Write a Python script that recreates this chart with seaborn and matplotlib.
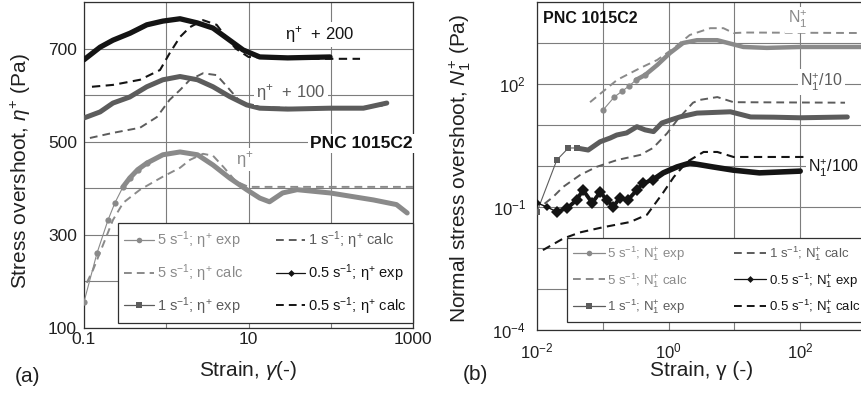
import matplotlib
matplotlib.use("Agg")
import numpy as np
import pandas as pd
import seaborn as sns
import matplotlib.pyplot as plt
from matplotlib.lines import Line2D

# ---------------- panel (a): stress overshoot ----------------
strain_a_5exp = [0.1, 0.144, 0.196, 0.238, 0.298, 0.36, 0.45, 0.58, 0.91, 1.47, 2.4, 3.7, 5.9, 9.5, 13.7, 18, 26, 39, 98, 330, 630, 850]
eta_a_5exp = [156, 261, 332, 369, 403, 422, 440, 454, 472, 478, 472, 450, 422, 397, 379, 371, 390, 397, 390, 375, 365, 347]
strain_a_5calc = [0.108, 0.129, 0.18, 0.225, 0.3, 0.48, 0.91, 1.47, 1.94, 2.8, 3.7, 5, 7, 10, 1000]
eta_a_5calc = [197, 225, 289, 332, 369, 397, 425, 444, 461, 474, 470, 445, 415, 403, 403]
strain_a_1exp = [0.1, 0.157, 0.225, 0.36, 0.58, 0.91, 1.47, 2.4, 3.7, 5.9, 9.5, 13.7, 30, 98, 250, 480]
eta_a_1exp = [551, 564, 583, 596, 618, 633, 640, 633, 618, 597, 579, 572, 570, 572, 572, 583]
strain_a_1calc = [0.118, 0.225, 0.48, 0.77, 1.1, 1.47, 1.94, 2.8, 4.1, 5.5, 8, 11, 100, 480]
eta_a_1calc = [508, 519, 530, 553, 590, 611, 633, 647, 643, 618, 585, 575, 570, 578]
strain_a_05exp = [0.1, 0.157, 0.225, 0.363, 0.58, 0.91, 1.47, 2.4, 3.7, 5.9, 8.6, 13.7, 30, 98]
eta_a_05exp = [676, 703, 718, 733, 751, 759, 764, 755, 744, 718, 697, 682, 680, 682]
strain_a_05calc = [0.125, 0.225, 0.48, 0.84, 1.1, 1.47, 1.94, 2.8, 4.1, 4.9, 7, 10, 50, 227]
eta_a_05calc = [618, 622, 633, 654, 690, 725, 746, 761, 751, 733, 700, 682, 678, 678]

# ---------------- panel (b): normal stress overshoot ----------------
strain_b_5exp = [0.101, 0.149, 0.197, 0.25, 0.32, 0.44, 0.67, 1.05, 1.66, 2.7, 5.5, 8, 13.7, 31, 100, 1000]
n1_b_5exp = [23.2, 48, 67, 89, 126, 166, 290, 570, 1000, 1170, 1170, 1000, 800, 760, 800, 800]
strain_b_5calc = [0.064, 0.165, 0.37, 0.67, 1.2, 2.1, 4.3, 6.8, 9.7, 15, 1000]
n1_b_5calc = [36, 126, 245, 385, 750, 1570, 2300, 2300, 1750, 1800, 1750]
strain_b_1exp = [0.01, 0.02, 0.03, 0.04, 0.06, 0.091, 0.129, 0.163, 0.23, 0.33, 0.44, 0.59, 0.79, 1.06, 1.5, 2.7, 8.7, 17.7, 40, 100, 520]
n1_b_1exp = [0.076, 1.4, 2.75, 2.75, 2.45, 3.9, 4.8, 5.7, 6.4, 9.1, 7.6, 6.9, 11.2, 13.2, 15.8, 19.5, 21, 15.7, 15.5, 15, 15.7]
strain_b_1calc = [0.013, 0.0175, 0.025, 0.045, 0.08, 0.165, 0.37, 0.58, 0.95, 1.34, 2.35, 3.0, 5.5, 9.7, 480]
n1_b_1calc = [0.12, 0.175, 0.31, 0.6, 0.95, 1.4, 1.86, 2.75, 6.3, 13, 35, 41, 48, 36, 35]
strain_b_05exp = [0.01, 0.0142, 0.02, 0.029, 0.04, 0.05, 0.069, 0.091, 0.116, 0.144, 0.18, 0.24, 0.33, 0.41, 0.58, 0.83, 1.34, 2.1, 4.7, 9.7, 24, 100]
n1_b_05exp = [0.126, 0.1, 0.076, 0.095, 0.148, 0.26, 0.126, 0.23, 0.148, 0.1, 0.166, 0.148, 0.26, 0.385, 0.457, 0.68, 0.95, 1.18, 0.95, 0.79, 0.68, 0.75]
strain_b_05calc = [0.0123, 0.025, 0.045, 0.1, 0.26, 0.47, 0.82, 1.2, 1.9, 3.4, 5.5, 9.7, 130]
n1_b_05calc = [0.0089, 0.017, 0.024, 0.032, 0.043, 0.065, 0.22, 0.54, 1.26, 2.2, 2.2, 1.66, 1.66]

# ticks
xticks_a = [0.1, 1, 10, 100, 1000]
xticklabels_a = ["0.1", "", "10", "", "1000"]
yticks_a = [100, 200, 300, 400, 500, 600, 700, 800]
yticklabels_a = ["100", "", "300", "", "500", "", "700", ""]
xticks_b = [1e-2, 1e-1, 1e0, 1e1, 1e2, 1e3]
xticklabels_b = [r"$10^{-2}$", "", r"$10^{0}$", "", r"$10^{2}$", ""]
yticks_b = [1e-4, 1e-3, 1e-2, 1e-1, 1e0, 1e1, 1e2, 1e3, 1e4]
yticklabels_b = [r"$10^{-4}$", "", "", r"$10^{-1}$", "", "", r"$10^{2}$", "", ""]

legend_a = ["5 s$^{-1}$; η$^{+}$ exp", "5 s$^{-1}$; η$^{+}$ calc", "1 s$^{-1}$; η$^{+}$ exp",
            "1 s$^{-1}$; η$^{+}$ calc", "0.5 s$^{-1}$; η$^{+}$ exp", "0.5 s$^{-1}$; η$^{+}$ calc"]
legend_b = [r"5 s$^{-1}$; $\mathrm{N}_1^{+}$ exp", r"5 s$^{-1}$; $\mathrm{N}_1^{+}$ calc", r"1 s$^{-1}$; $\mathrm{N}_1^{+}$ exp",
            r"1 s$^{-1}$; $\mathrm{N}_1^{+}$ calc", r"0.5 s$^{-1}$; $\mathrm{N}_1^{+}$ exp", r"0.5 s$^{-1}$; $\mathrm{N}_1^{+}$ calc"]

# ---------------- style ----------------
sns.set_theme(style="whitegrid")
plt.rcParams['font.family'] = ['Liberation Sans', 'DejaVu Sans']
plt.rcParams['mathtext.fontset'] = 'custom'
plt.rcParams['mathtext.rm'] = 'Liberation Sans'
plt.rcParams['mathtext.it'] = 'Liberation Sans:italic'
plt.rcParams['mathtext.bf'] = 'Liberation Sans:bold'

C5 = '#8a8a8a'
C1 = '#5c5c5c'
C05 = '#141414'
GRID = '#7d7d7d'
DASH = (0, (4, 2.6))

fig = plt.figure(figsize=(8.62, 3.94), dpi=100)
axA = fig.add_axes([84/862, 1-328/394, 329/862, 326/394])
axB = fig.add_axes([537/862, 1-330/394, 329/862, 328/394])


def line(ax, x, y, color, lw, ls='-', marker=None, ms=0, z=2):
    sns.lineplot(x=x, y=y, ax=ax, color=color, lw=lw, linestyle=ls, marker=marker,
                 markersize=ms, markeredgewidth=0, markeredgecolor=color, sort=False,
                 estimator=None, zorder=z, legend=False)


def style_axes(ax):
    ax.set_facecolor('white')
    ax.grid(True, color=GRID, lw=0.8)
    ax.set_axisbelow(True)
    for s in ax.spines.values():
        s.set_visible(True)
        s.set_color('#303030')
        s.set_linewidth(0.9)
    ax.tick_params(length=0)

# ---------- panel (a) ----------
axA.set_xscale('log')
style_axes(axA)
line(axA, strain_a_5exp[:8], eta_a_5exp[:8], C5, 0.8, marker='o', ms=4.5, z=3)
line(axA, strain_a_5exp[4:], eta_a_5exp[4:], C5, 3.6, z=3)
line(axA, strain_a_1exp, eta_a_1exp, C1, 3.6, z=3)
line(axA, strain_a_05exp, eta_a_05exp, C05, 3.8, z=3)
line(axA, strain_a_5calc, eta_a_5calc, C5, 1.4, ls=DASH, z=4)
line(axA, strain_a_1calc, eta_a_1calc, C1, 1.4, ls=DASH, z=4)
line(axA, strain_a_05calc, eta_a_05calc, C05, 1.5, ls=DASH, z=4)
axA.set_xlim(0.1, 1000)
axA.set_ylim(100, 800)
axA.set_xticks(xticks_a)
axA.set_xticklabels(xticklabels_a)
axA.set_yticks(yticks_a)
axA.set_yticklabels(yticklabels_a)
axA.tick_params(axis='both', labelsize=12.5, colors='#202020')
axA.tick_params(axis='x', pad=3)
axA.tick_params(axis='y', pad=5)
axA.set_xlabel(r"Strain, $\gamma$(-)", fontsize=15, color='#202020')
axA.set_ylabel(r"Stress overshoot, $\eta^{+}$ (Pa)", fontsize=15, color='#202020')
axA.xaxis.set_label_coords(0.5, -0.095)
axA.yaxis.set_label_coords(-0.155, 0.48)

bb = dict(facecolor='white', edgecolor='none', pad=1.5)
axA.text(74, 731, "η$^{+}$  + 200", fontsize=12, color=C05, ha='center', va='center', bbox=bb, zorder=5)
axA.text(33, 605, "η$^{+}$  + 100", fontsize=12, color=C1, ha='center', va='center', bbox=bb, zorder=5)
axA.text(1000, 497, "PNC 1015C2", fontsize=12.5, fontweight='bold', color='#111111', ha='right', va='center', bbox=bb, zorder=5)
axA.text(9.06, 462, "η$^{+}$", fontsize=12, color=C5, ha='center', va='center', bbox=dict(facecolor='white', edgecolor='none', pad=0.5), zorder=5)

handles_a = [
    Line2D([], [], color=C5, lw=0.9, marker='o', ms=4, mew=0),
    Line2D([], [], color=C5, lw=1.4, ls=DASH),
    Line2D([], [], color=C1, lw=0.9, marker='s', ms=4, mew=0),
    Line2D([], [], color=C1, lw=1.4, ls=DASH),
    Line2D([], [], color=C05, lw=0.9, marker='D', ms=3.5, mew=0),
    Line2D([], [], color=C05, lw=1.4, ls=DASH),
]
legA = axA.legend(handles_a, legend_a, loc='lower left', bbox_to_anchor=(0.103, 0.015, 0.897, 0.3),
                  mode='expand', ncol=2, frameon=True, fancybox=False, framealpha=1,
                  edgecolor='#303030', labelcolor='linecolor', fontsize=10.5,
                  handlelength=2.0, handletextpad=0.2, labelspacing=0.75, borderpad=0.45,
                  borderaxespad=0, columnspacing=1.0)
legA.get_frame().set_linewidth(0.9)
legA.set_zorder(6)

# ---------- panel (b) ----------
axB.set_xscale('log')
axB.set_yscale('log')
style_axes(axB)
line(axB, strain_b_5exp[:6], n1_b_5exp[:6], C5, 0.8, marker='o', ms=4.5, z=3)
line(axB, strain_b_5exp[4:], n1_b_5exp[4:], C5, 3.2, z=3)
line(axB, strain_b_1exp[:4], n1_b_1exp[:4], C1, 0.8, marker='s', ms=4.5, z=3)
line(axB, strain_b_1exp[3:], n1_b_1exp[3:], C1, 3.6, z=3)
line(axB, strain_b_05exp[:3], n1_b_05exp[:3], C05, 1.0, marker='D', ms=4, z=3)
line(axB, strain_b_05exp[2:15], n1_b_05exp[2:15], C05, 2.8, marker='D', ms=6, z=3)
line(axB, strain_b_05exp[14:], n1_b_05exp[14:], C05, 4.0, z=3)
line(axB, strain_b_5calc, n1_b_5calc, C5, 1.4, ls=DASH, z=4)
line(axB, strain_b_1calc, n1_b_1calc, C1, 1.4, ls=DASH, z=4)
line(axB, strain_b_05calc, n1_b_05calc, C05, 1.5, ls=DASH, z=4)
axB.set_xlim(1e-2, 1e3)
axB.set_ylim(1e-4, 1e4)
axB.set_xticks(xticks_b)
axB.set_xticklabels(xticklabels_b)
axB.set_yticks(yticks_b)
axB.set_yticklabels(yticklabels_b)
axB.minorticks_off()
axB.tick_params(axis='both', labelsize=12, colors='#202020')
axB.tick_params(axis='x', pad=8)
axB.tick_params(axis='y', pad=8)
axB.set_xlabel("Strain, γ (-)", fontsize=15, color='#202020')
axB.set_ylabel(r"Normal stress overshoot, $N_1^{+}$ (Pa)", fontsize=15, color='#202020')
axB.xaxis.set_label_coords(0.5, -0.093)
axB.yaxis.set_label_coords(-0.195, 0.494)

axB.text(0.0123, 3850, "PNC 1015C2", fontsize=11.5, fontweight='bold', color='#111111', ha='left', va='center', zorder=5)
axB.text(90.6, 3650, r"$\mathrm{N}_1^{+}$", fontsize=11.5, color=C5, ha='center', va='center', bbox=bb, zorder=5)
axB.text(100, 112, r"$\mathrm{N}_1^{+}$/10", fontsize=11.5, color=C1, ha='left', va='center', bbox=bb, zorder=5)
axB.text(133, 0.89, r"$\mathrm{N}_1^{+}$/100", fontsize=11.5, color=C05, ha='left', va='center', bbox=bb, zorder=5)

handles_b = [
    Line2D([], [], color=C5, lw=0.9, marker='o', ms=4, mew=0),
    Line2D([], [], color=C5, lw=1.4, ls=DASH),
    Line2D([], [], color=C1, lw=0.9, marker='s', ms=4, mew=0),
    Line2D([], [], color=C1, lw=1.4, ls=DASH),
    Line2D([], [], color=C05, lw=0.9, marker='D', ms=3.5, mew=0),
    Line2D([], [], color=C05, lw=1.4, ls=DASH),
]
legB = axB.legend(handles_b, legend_b, loc='lower left', bbox_to_anchor=(0.091, 0.024, 0.909, 0.28),
                  mode='expand', ncol=2, frameon=True, fancybox=False, framealpha=1,
                  edgecolor='#303030', labelcolor='linecolor', fontsize=9.5,
                  handlelength=2.4, handletextpad=0.2, labelspacing=0.6, borderpad=0.45,
                  borderaxespad=0, columnspacing=1.0)
legB.get_frame().set_linewidth(0.9)
legB.set_zorder(6)

fig.text(28/862, 1-376/394, "(a)", fontsize=15, color='#202020', ha='center', va='center')
fig.text(475/862, 1-374/394, "(b)", fontsize=15, color='#202020', ha='center', va='center')

fig.savefig("out.png", dpi=100, facecolor='white')
